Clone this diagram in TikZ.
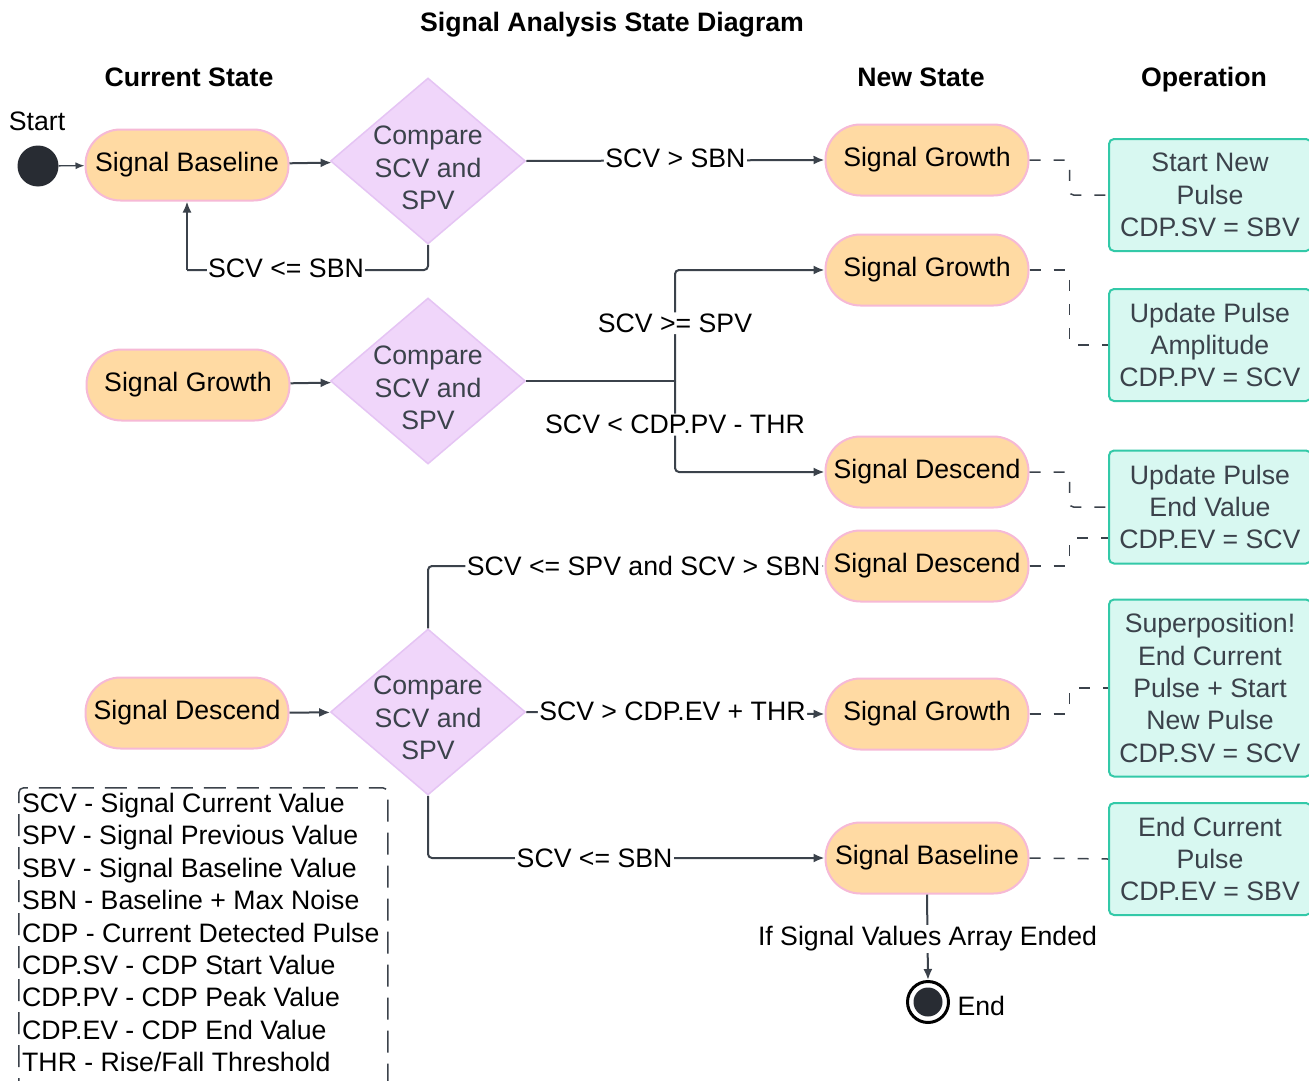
\documentclass[tikz,border=0pt]{standalone}
\usepackage{fontspec}
\setmainfont{Liberation Sans}
\usetikzlibrary{arrows.meta,shapes.geometric,calc}
\definecolor{pillfill}{HTML}{FFDAA3}
\definecolor{pillline}{HTML}{F6B9D6}
\definecolor{diafill}{HTML}{F0D6FA}
\definecolor{dialine}{HTML}{E5C4F4}
\definecolor{opfill}{HTML}{D8F8F1}
\definecolor{opline}{HTML}{33C9A8}
\definecolor{lncol}{HTML}{3B424B}
\definecolor{graytxt}{HTML}{3B424B}
\definecolor{dotcol}{HTML}{282C33}
\begin{document}
\begin{tikzpicture}[x=1pt,y=-1pt,
  every node/.style={font=\fontsize{26.67}{32.4}\selectfont},
  pill/.style={draw=pillline,line width=2pt,fill=pillfill,rounded corners=35pt,minimum width=203pt,minimum height=71pt,inner sep=0pt},
  diabox/.style={draw=dialine,line width=1.5pt,fill=diafill,shape=diamond,minimum width=195pt,minimum height=166pt,inner sep=0pt},
  diatext/.style={text=graytxt,align=center},
  opbox/.style={draw=opline,line width=2pt,fill=opfill,rounded corners=5pt,minimum width=202pt,inner sep=0pt,text=graytxt,align=center},
  hdr/.style={font=\fontsize{26.67}{32}\selectfont\bfseries,anchor=base},
  lbl/.style={fill=white,inner sep=1.5pt},
  ln/.style={draw=lncol,line width=2pt,rounded corners=4pt},
  arr/.style={ln,-{Latex[length=11pt,width=9pt]}},
  dsh/.style={draw=lncol,line width=1.5pt,dash pattern=on 11pt off 13pt,rounded corners=4pt},
]
\useasboundingbox (0,0) rectangle (1309,1081);
\fill[white] (0,0) rectangle (1309,1081);

% titles
\node[hdr] (title) at (612,31.5) {Signal Analysis State Diagram};
\node[hdr] (hcur) at (189,86.5) {Current State};
\node[hdr] (hnew) at (921,86.5) {New State};
\node[hdr] (hop) at (1204,86.5) {Operation};

% start
\node (startlbl) at (37,121) {Start};
\node[circle,fill=dotcol,minimum size=41pt,inner sep=0pt] (start) at (38,166) {};

% current states
\node[pill] (b1) at (187,165) {Signal Baseline};
\node[pill] (gc) at (188,385) {Signal Growth};
\node[pill] (dc) at (187,713) {Signal Descend};

% diamonds
\node[diabox] (d1) at (428,161) {};
\node[diatext] at ([yshift=-7pt]d1.center) {Compare\\SCV and\\SPV};
\node[diabox] (d2) at (428,381) {};
\node[diatext] at ([yshift=-7pt]d2.center) {Compare\\SCV and\\SPV};
\node[diabox] (d3) at (428,712) {};
\node[diatext] at ([yshift=-6pt]d3.center) {Compare\\SCV and\\SPV};

% new states
\node[pill] (g1) at (927,160) {Signal Growth};
\node[pill] (g2) at (927,270) {Signal Growth};
\node[pill] (ds1) at (927,472) {Signal Descend};
\node[pill] (ds2) at (927,566) {Signal Descend};
\node[pill] (g3) at (927,714) {Signal Growth};
\node[pill] (bs2) at (927,858) {Signal Baseline};

% end
\node[circle,draw=black,line width=3pt,fill=white,minimum size=41pt,inner sep=0pt] (end) at (928,1002) {};
\node[circle,fill=dotcol,minimum size=29pt,inner sep=0pt] (endin) at (end) {};
\node[anchor=west] (endlbl) at (954,1006) {End};

% operations
\node[opbox,minimum height=112pt] (op1) at (1210,195) {Start New\\Pulse\\CDP.SV = SBV};
\node[opbox,minimum height=112pt] (op2) at (1210,345) {Update Pulse\\Amplitude\\CDP.PV = SCV};
\node[opbox,minimum height=113pt] (op3) at (1210,507) {Update Pulse\\End Value\\CDP.EV = SCV};
\node[opbox,minimum height=177pt] (op4) at (1210,688) {Superposition!\\End Current\\Pulse + Start\\New Pulse\\CDP.SV = SCV};
\node[opbox,minimum height=112pt] (op5) at (1210,859) {End Current\\Pulse\\CDP.EV = SBV};

% legend
\node[draw=lncol,line width=1.5pt,dash pattern=on 22pt off 11pt,dash phase=8pt,rounded corners=5pt,minimum width=369pt,minimum height=310pt,anchor=north west,inner sep=0pt] (legbox) at (18,787) {};
\node[anchor=north west,align=left,inner sep=0pt] (legtext) at (22,793) {SCV - Signal Current Value\\SPV - Signal Previous Value\\SBV - Signal Baseline Value\\SBN - Baseline + Max Noise\\CDP - Current Detected Pulse\\CDP.SV - CDP Start Value\\CDP.PV - CDP Peak Value\\CDP.EV - CDP End Value\\THR - Rise/Fall Threshold};

% connectors
\draw[draw=lncol,line width=1.3pt,-{Latex[length=9pt,width=7pt]}] (start) -- (b1);
\draw[arr] (b1) -- (d1);
\draw[arr] (d1.east) -- node[lbl,pos=0.5,yshift=2pt]{SCV > SBN} (g1.west);
\coordinate (l1) at (187,270);
\draw[ln] (d1.south) |- (l1);
\draw[arr] (l1) -- (b1.south);
\node[lbl] (l1lbl) at (286,268) {SCV <= SBN};

\draw[arr] (gc) -- (d2);
\coordinate (j2) at (675,381);
\draw[ln] (d2.east) -- (j2);
\draw[arr] (j2) |- node[lbl,pos=0.26]{SCV >= SPV} (g2.west);
\draw[arr] (j2) |- node[lbl,pos=0.24]{SCV < CDP.PV - THR} (ds1.west);

\draw[arr] (dc) -- (d3);
\draw[arr] (d3.north) |- node[lbl,pos=0.772]{SCV <= SPV and SCV > SBN} (ds2.west);
\draw[arr] (d3.east) -- node[lbl,pos=0.49,yshift=2pt]{SCV > CDP.EV + THR} (g3.west);
\draw[arr] (d3.south) |- node[lbl,pos=0.71]{SCV <= SBN} (bs2.west);
\draw[arr] (bs2.south) -- node[lbl,pos=0.52]{If Signal Values Array Ended} (end.north);

% dashed links to operations
\draw[dsh] (g1.east) -- ++(40,0) |- (op1.west);
\draw[dsh] (g2.east) -- ++(40,0) |- (op2.west);
\draw[dsh] (ds1.east) -- ++(40,0) |- (op3.west);
\draw[dsh] (ds2.east) -- ++(40,0) |- ([yshift=-31pt]op3.west);
\draw[dsh] (g3.east) -- ++(40,0) |- (op4.west);
\draw[dsh] (bs2.east) -- (op5.west);
\end{tikzpicture}
\end{document}
